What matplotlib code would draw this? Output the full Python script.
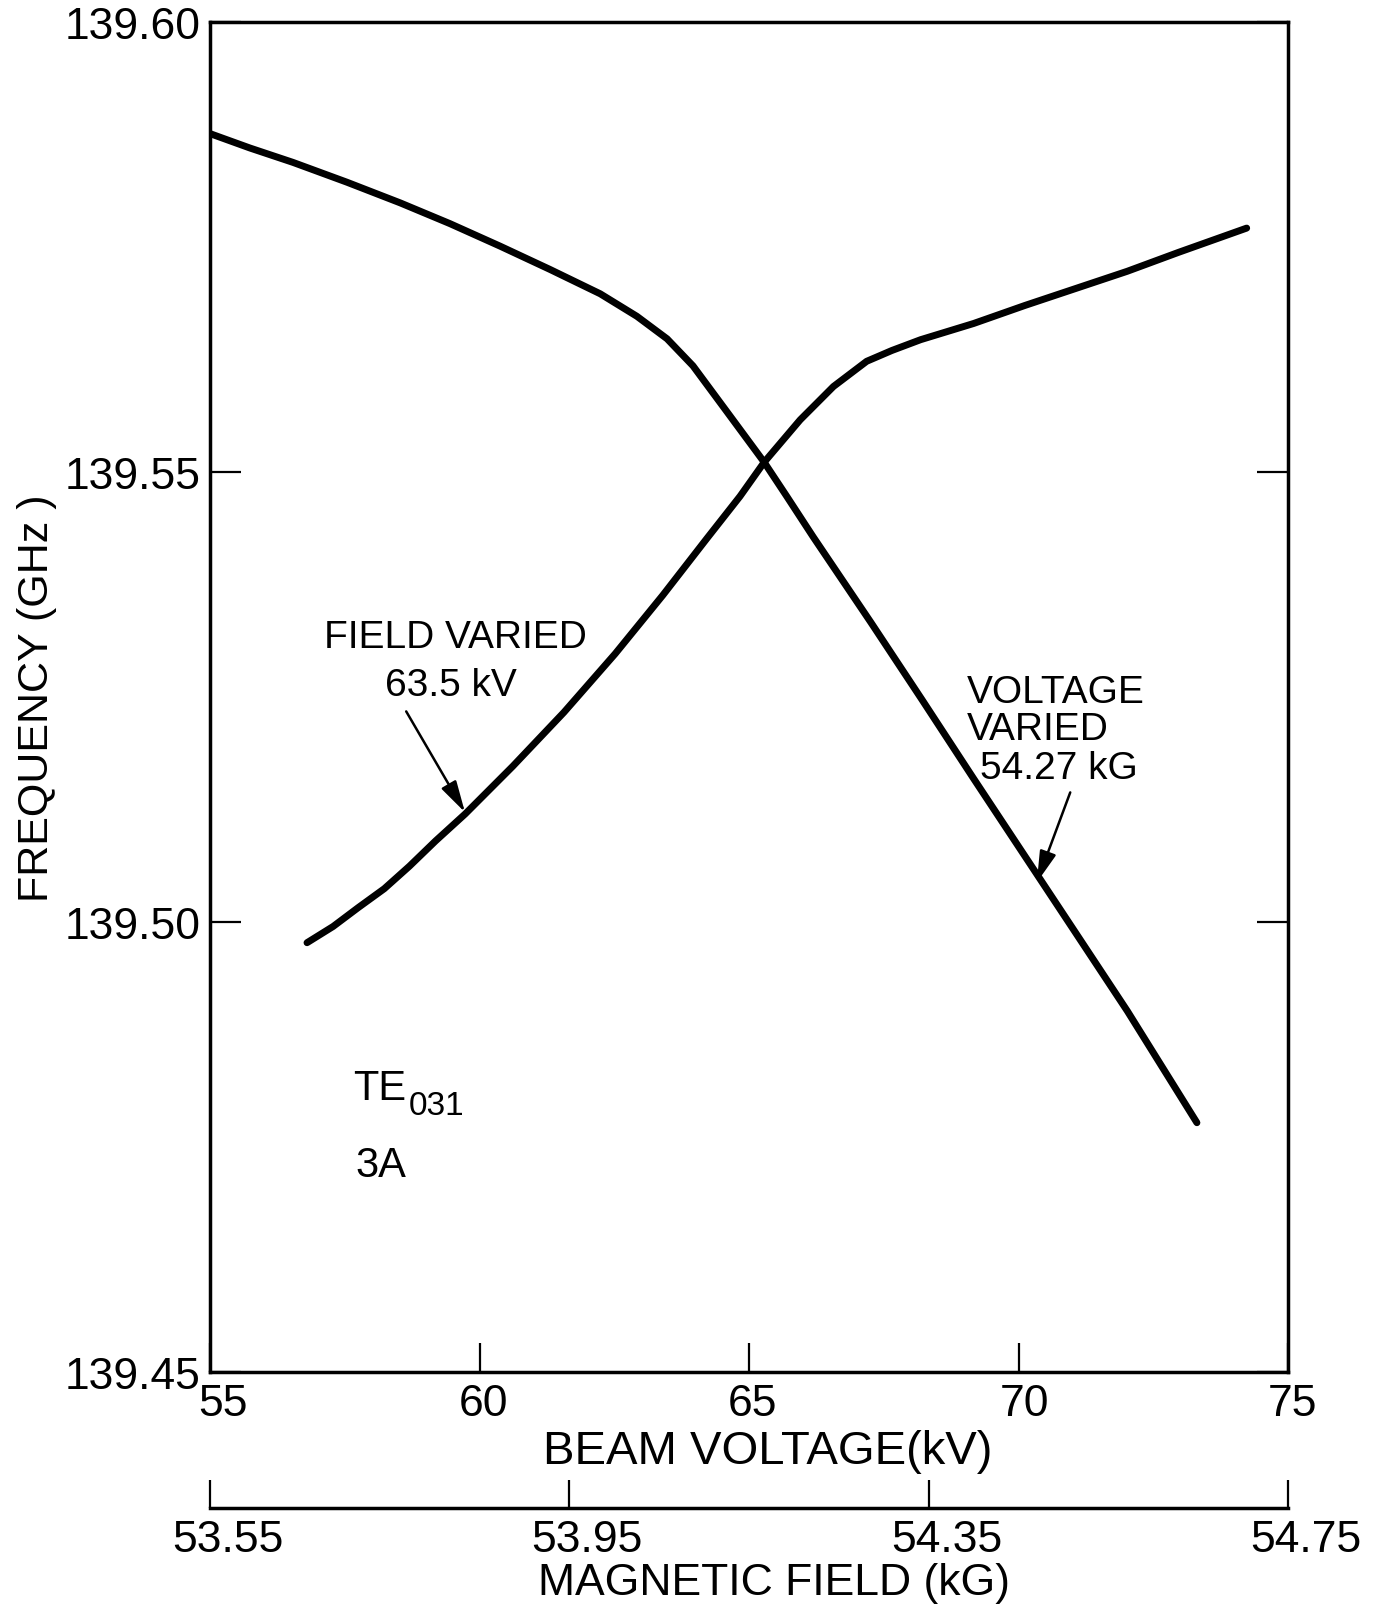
import matplotlib
matplotlib.use("Agg")
import matplotlib.pyplot as plt
from matplotlib.transforms import ScaledTranslation

plt.rcParams["font.family"] = ["Liberation Sans", "DejaVu Sans"]

# Voltage-varied sweep (field held at 54.27 kG): beam voltage in kV, frequency in GHz
voltage_kv = [55.0, 55.74, 56.54, 57.54, 58.53, 59.45, 60.38, 61.31, 62.24, 62.92,
              63.48, 63.96, 64.59, 65.28, 65.70, 66.19, 67.26, 68.21, 69.16, 70.11,
              71.06, 72.02, 73.31]
voltage_freq = [139.5876, 139.5860, 139.5844, 139.5822, 139.5799, 139.5776, 139.5751,
                139.5725, 139.5698, 139.5673, 139.5648, 139.5618, 139.5567, 139.5511,
                139.5473, 139.5428, 139.5333, 139.5247, 139.5160, 139.5074, 139.4988,
                139.4901, 139.4777]

# Field-varied sweep (voltage held at 63.5 kV): magnetic field in kG, frequency in GHz
field_kg = [53.658, 53.687, 53.715, 53.744, 53.772, 53.801, 53.834, 53.887, 53.944,
            54.001, 54.054, 54.103, 54.140, 54.167, 54.207, 54.244, 54.281, 54.309,
            54.341, 54.400, 54.457, 54.514, 54.571, 54.628, 54.704]
field_freq = [139.4977, 139.4995, 139.5016, 139.5037, 139.5062, 139.5090, 139.5120,
              139.5173, 139.5233, 139.5298, 139.5363, 139.5426, 139.5473, 139.5511,
              139.5558, 139.5595, 139.5623, 139.5635, 139.5647, 139.5665, 139.5685,
              139.5704, 139.5723, 139.5744, 139.5771]

kv_ticks = [55, 60, 65, 70, 75]
kv_labels = ["55", "60", "65", "70", "75"]
ghz_ticks = [139.45, 139.50, 139.55, 139.60]
ghz_labels = ["139.45", "139.50", "139.55", "139.60"]
kg_ticks = [53.55, 53.95, 54.35, 54.75]
kg_labels = ["53.55", "53.95", "54.35", "54.75"]

# Both horizontal scales span the same width: 55-75 kV and 53.55-54.75 kG
KV0, KV1 = 55.0, 75.0
KG0, KG1 = 53.55, 54.75


def kv_to_kg(v):
    return KG0 + (v - KV0) * (KG1 - KG0) / (KV1 - KV0)


def kg_to_kv(b):
    return KV0 + (b - KG0) * (KV1 - KV0) / (KG1 - KG0)


W, H = 1377, 1606
fig = plt.figure(figsize=(W / 100, H / 100), dpi=100)
fig.patch.set_facecolor("white")

left, right, top, bottom = 210, 1288, 23, 1373
ax = fig.add_axes([left / W, 1 - bottom / H, (right - left) / W, (bottom - top) / H])

ax.set_xlim(KV0, KV1)
ax.set_ylim(139.45, 139.60)

curve_kw = dict(color="black", lw=5, solid_capstyle="round", solid_joinstyle="round")
ax.plot(voltage_kv, voltage_freq, **curve_kw)
ax.plot([kg_to_kv(b) for b in field_kg], field_freq, **curve_kw)

for s in ax.spines.values():
    s.set_linewidth(2.5)

ax.set_xticks(kv_ticks)
ax.set_xticklabels(kv_labels)
ax.set_yticks(ghz_ticks)
ax.set_yticklabels(ghz_labels)
ax.tick_params(axis="x", direction="in", length=21, width=1.6, pad=8, labelsize=32,
               top=False)
ax.tick_params(axis="y", direction="in", length=22, width=1.6, pad=7, labelsize=32,
               right=True)


def shift(label, dx_px):
    label.set_transform(label.get_transform()
                        + ScaledTranslation(dx_px / 100, 0, fig.dpi_scale_trans))


for lab, dx in zip(ax.get_xticklabels(), [13, 4, 4, 6, 4]):
    shift(lab, dx)

ax.set_xlabel("BEAM VOLTAGE(kV)", fontsize=34)
ax.xaxis.label.set_va("baseline")
ax.xaxis.set_label_coords(0.517, -0.0674)

ax.set_ylabel("FREQUENCY (GHz )", fontsize=31)
ax.yaxis.set_label_coords(-0.142, 0.5)

# Magnetic field scale drawn as a second axis below the beam-voltage axis
secax = ax.secondary_xaxis(-(1509 - bottom) / (bottom - top), functions=(kv_to_kg, kg_to_kv))
secax.set_xticks(kg_ticks)
secax.set_xticklabels(kg_labels)
secax.tick_params(axis="x", direction="in", length=20, width=1.6, pad=8, labelsize=32)
secax.spines["bottom"].set_linewidth(2.5)
for lab in secax.get_xticklabels():
    shift(lab, 18)
secax.set_xlabel("MAGNETIC FIELD (kG)", fontsize=32)
secax.xaxis.label.set_va("baseline")
secax.xaxis.set_label_coords(0.523, -0.1644, transform=ax.transAxes)

# Curve annotations
ax.text(59.56, 139.5317, "FIELD VARIED", fontsize=28, ha="center", va="center")
ax.text(59.47, 139.5263, "63.5 kV", fontsize=28, ha="center", va="center")
arrow_kw = dict(arrowstyle="-|>,head_length=0.6,head_width=0.16", color="black",
                lw=1.8, mutation_scale=32, shrinkA=0, shrinkB=0)
ax.annotate("", xy=(59.73, 139.5122), xytext=(58.64, 139.5234), arrowprops=arrow_kw)

ax.text(69.04, 139.5256, "VOLTAGE", fontsize=28, ha="left", va="center")
ax.text(69.04, 139.5214, "VARIED", fontsize=28, ha="left", va="center")
ax.text(69.29, 139.5171, "54.27 kG", fontsize=28, ha="left", va="center")
ax.annotate("", xy=(70.34, 139.5044), xytext=(70.96, 139.5144), arrowprops=arrow_kw)

# Mode and current
ax.text(57.65, 139.4803, "TE", fontsize=30, ha="left", va="baseline")
ax.text(58.68, 139.4787, "031", fontsize=24, ha="left", va="baseline")
ax.text(57.69, 139.4718, "3A", fontsize=30, ha="left", va="baseline")

fig.savefig("out.png", dpi=100, facecolor="white")
